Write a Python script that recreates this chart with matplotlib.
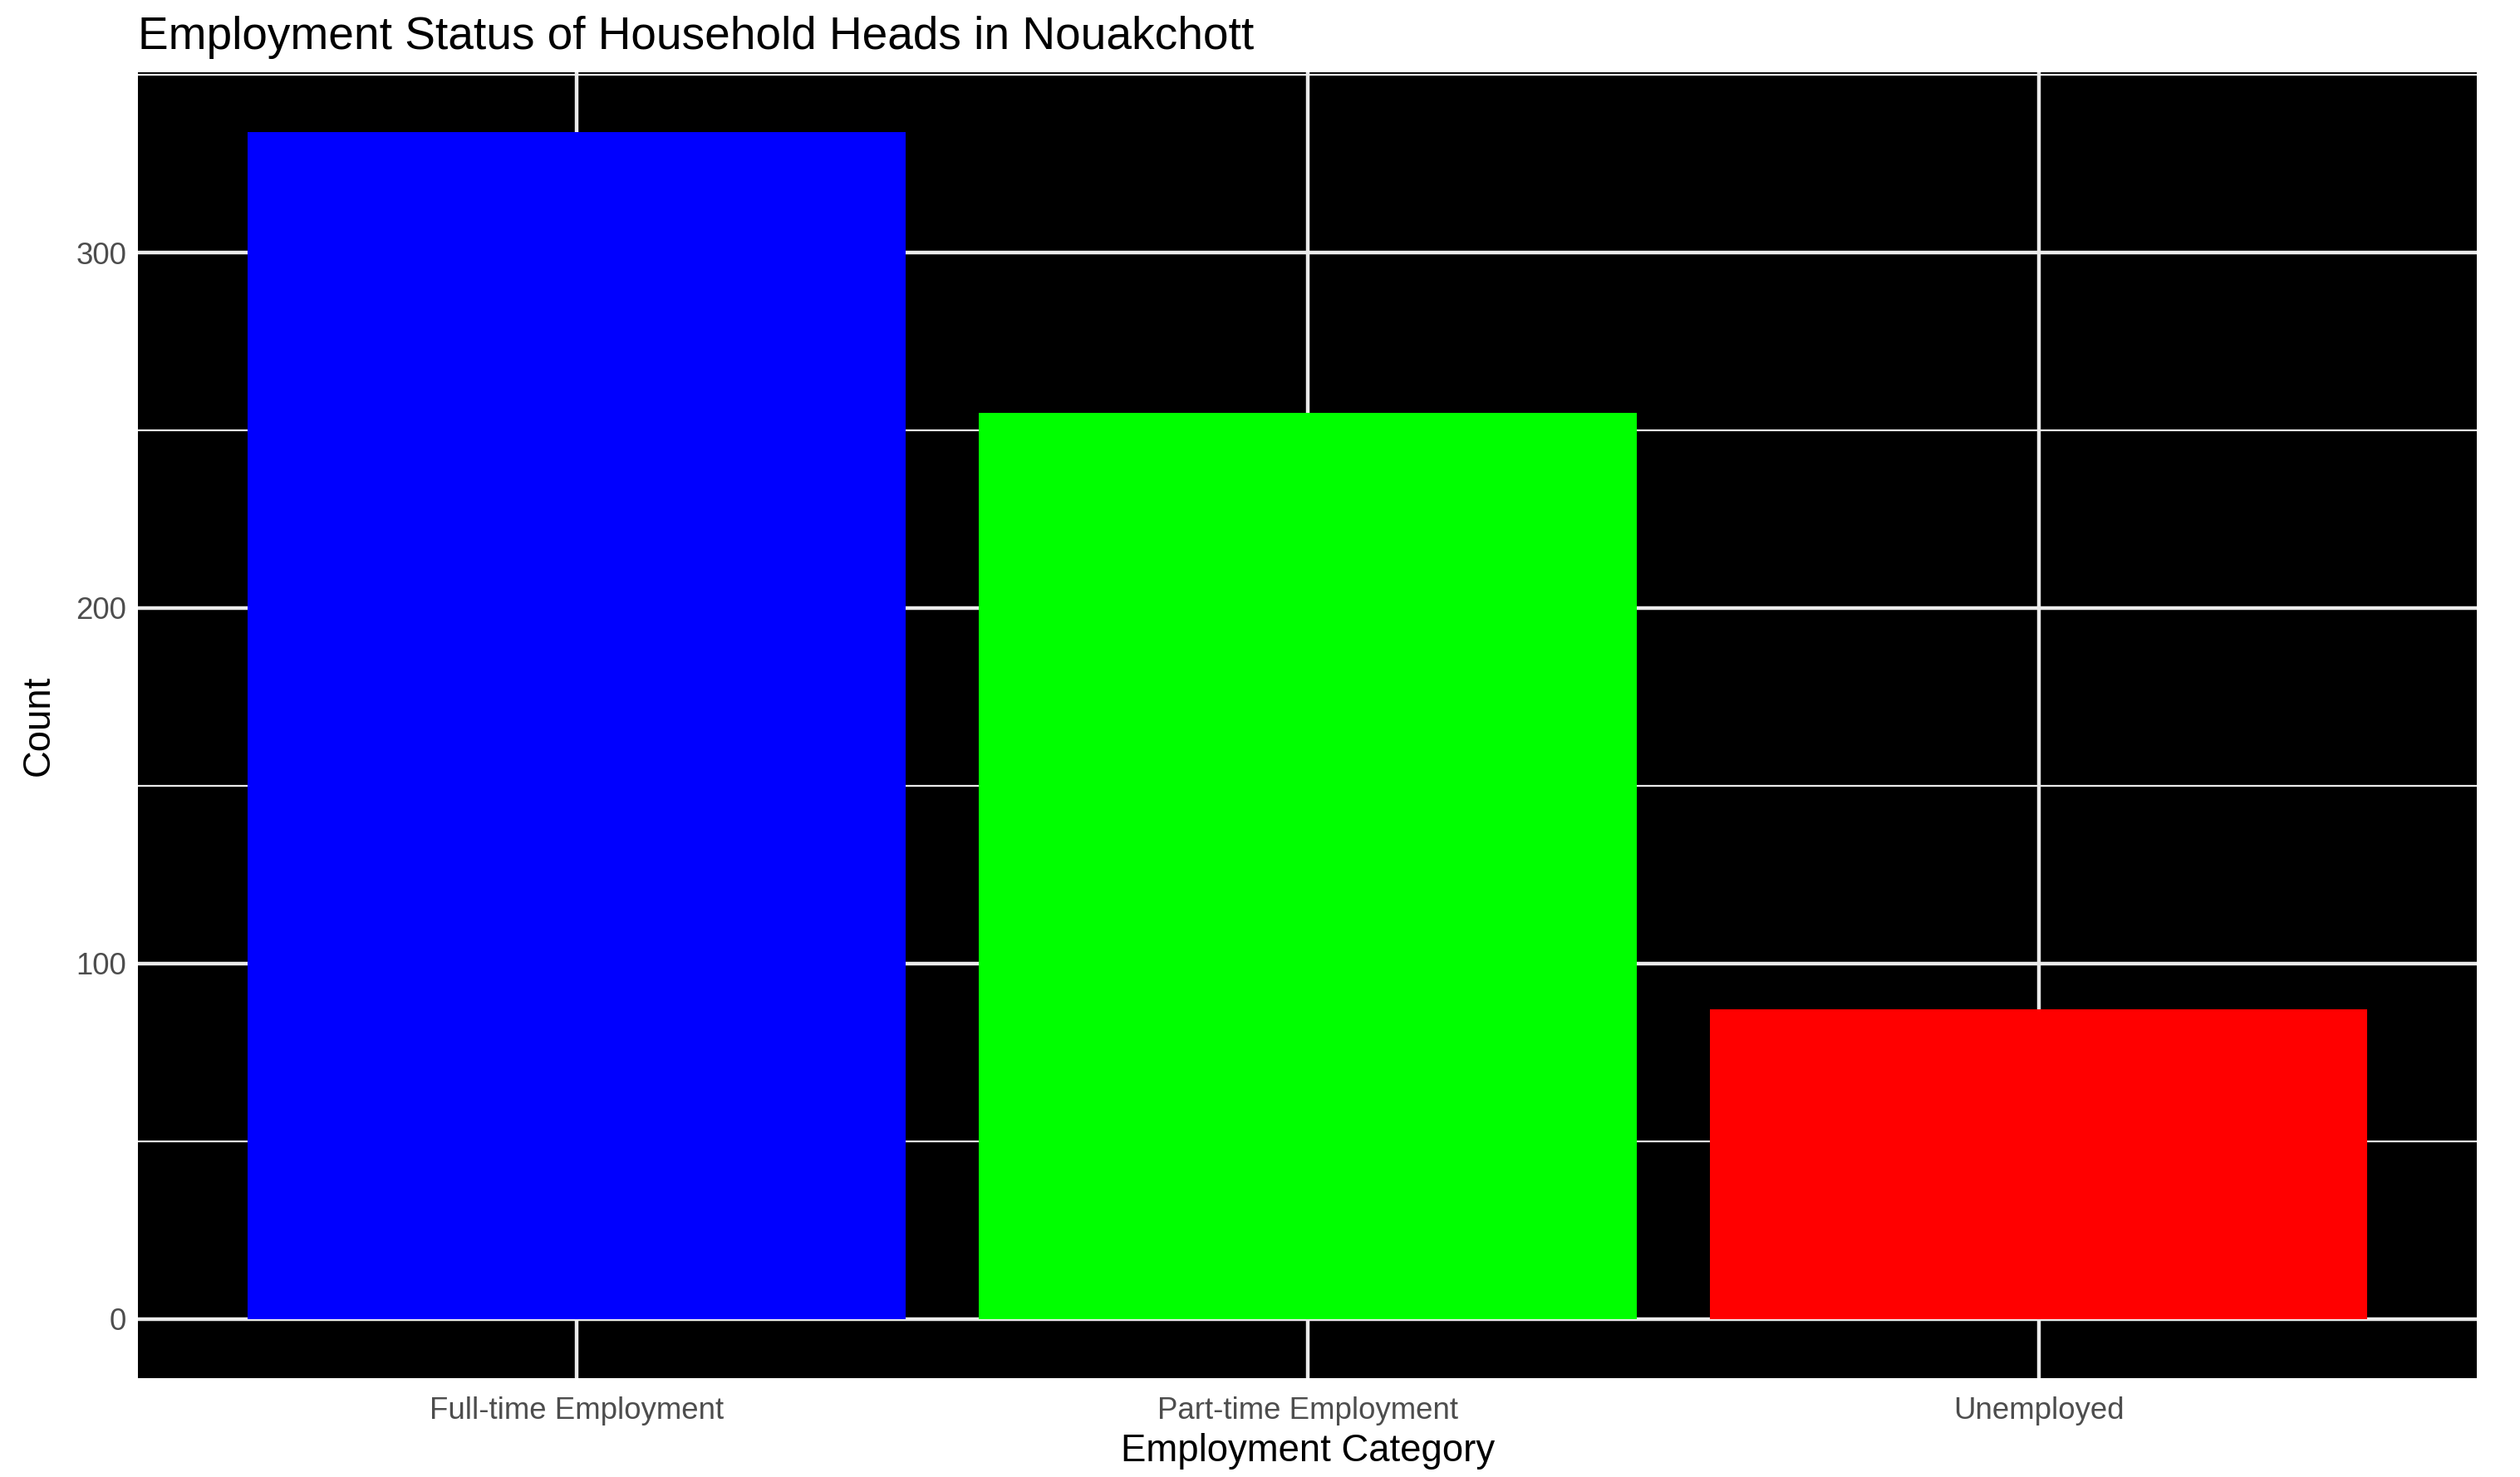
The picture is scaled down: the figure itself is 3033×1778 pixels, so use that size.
import numpy as np
import matplotlib.pyplot as plt
from matplotlib.ticker import MultipleLocator

plt.rcParams['font.family'] = ['Liberation Sans', 'DejaVu Sans']

# data
categories = ['Full-time Employment', 'Part-time Employment', 'Unemployed']
counts = [334, 255, 87]
bar_colors = ['#0000FF', '#00FF00', '#FF0000']

fig = plt.figure(figsize=(15.165, 8.89), dpi=200)
ax = fig.add_axes([0.0547, 0.0669, 0.983 - 0.0547, 0.951 - 0.0669])

x = np.arange(1, len(categories) + 1)
ax.bar(x, counts, width=0.9, color=bar_colors, zorder=3)

ax.set_facecolor('black')
ax.set_xlim(0.4, len(categories) + 0.6)
top = max(counts)
ax.set_ylim(-0.05 * top, top * 1.05)

ax.yaxis.set_major_locator(MultipleLocator(100))
ax.yaxis.set_minor_locator(MultipleLocator(50))
ax.set_xticks(x)
ax.set_xticklabels(categories)

ax.grid(which='major', color='#EBEBEB', linewidth=1.6, zorder=1)
ax.grid(which='minor', axis='y', color='#EBEBEB', linewidth=0.8, zorder=1)
ax.set_axisbelow(True)

for s in ax.spines.values():
    s.set_visible(False)
ax.tick_params(which='both', length=0, labelsize=13.2, labelcolor='#4D4D4D')
ax.tick_params(axis='x', pad=8)
ax.tick_params(axis='y', pad=5)

ax.set_xlabel('Employment Category', fontsize=16.4, labelpad=3)
ax.set_ylabel('Count', fontsize=16.4, labelpad=8)
ax.set_title('Employment Status of Household Heads in Nouakchott', fontsize=19.8, loc='left', pad=10)

fig.savefig('out.png', dpi=200)
